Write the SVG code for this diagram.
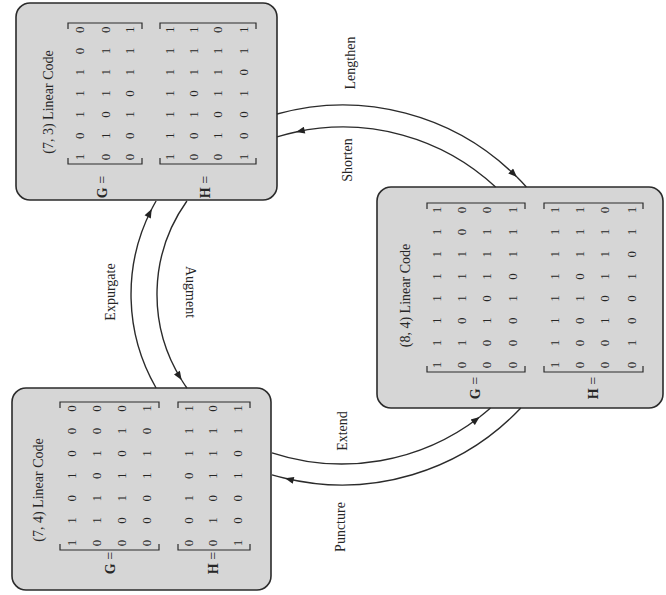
<svg xmlns="http://www.w3.org/2000/svg" width="666" height="595" viewBox="0 0 666 595">
  <style>
    .box { fill: #d6d6d6; stroke: #2b2b2b; stroke-width: 1.6; }
    .brk { fill: none; stroke: #2b2b2b; stroke-width: 1.2; }
    .arc { fill: none; stroke: #2b2b2b; stroke-width: 1.4; }
    .t { font-family: "Liberation Serif", "Times New Roman", serif; fill: #262626; }
    .title { font-size: 14px; text-anchor: middle; }
    .d { font-size: 13px; text-anchor: middle; }
    .lbl { font-size: 14px; text-anchor: middle; }
    .eq { font-size: 14px; text-anchor: middle; }
  </style>
  <defs>
    <marker id="ah" viewBox="0 0 10 8" refX="10" refY="4" markerWidth="10" markerHeight="7" markerUnits="userSpaceOnUse" orient="auto">
      <path d="M0,0 L10,4 L0,8 z" fill="#222"/>
    </marker>
  </defs>
  <rect width="666" height="595" fill="#ffffff"/>

  <!-- Node: (7,3) Linear Code -->
  <g id="node-7-3">
    <rect class="box" x="16" y="3" width="261" height="197" rx="14"/>
    <path class="brk" d="M68,158 L68,164 L142,164 L142,158 M68,29 L68,23 L142,23 L142,29"/>
    <path class="brk" d="M160,158 L160,164 L256,164 L256,158 M160,29 L160,23 L256,23 L256,29"/>
    <g transform="translate(0,595) rotate(-90)" class="t">
      <text class="title" x="493" y="52.5">(7, 3) Linear Code</text>
      <text class="d" x="438 459.2 480.4 501.6 522.8 544 565.2" y="84.4">1011100</text>
      <text class="d" x="438 459.2 480.4 501.6 522.8 544 565.2" y="110.4">0101110</text>
      <text class="d" x="438 459.2 480.4 501.6 522.8 544 565.2" y="134.4">0010111</text>
      <text class="d" x="438 459.2 480.4 501.6 522.8 544 565.2" y="174.4">1111111</text>
      <text class="d" x="438 459.2 480.4 501.6 522.8 544 565.2" y="198.4">0010111</text>
      <text class="d" x="438 459.2 480.4 501.6 522.8 544 565.2" y="222.4">0101110</text>
      <text class="d" x="438 459.2 480.4 501.6 522.8 544 565.2" y="248.4">1001011</text>
      <text class="eq" x="408" y="107"><tspan font-weight="bold">G</tspan> =</text>
      <text class="eq" x="408" y="210"><tspan font-weight="bold">H</tspan> =</text>
    </g>
  </g>

  <!-- Node: (8,4) Linear Code -->
  <g id="node-8-4">
    <rect class="box" x="377" y="187" width="286" height="221" rx="14"/>
    <path class="brk" d="M427,366 L427,372 L525,372 L525,366 M427,209 L427,203 L525,203 L525,209"/>
    <path class="brk" d="M544,366 L544,372 L643,372 L643,366 M544,209 L544,203 L643,203 L643,209"/>
    <g transform="translate(0,595) rotate(-90)" class="t">
      <text class="title" x="299.5" y="409.5">(8, 4) Linear Code</text>
      <text class="d" x="230 252.1 274.3 296.4 318.6 340.7 362.9 385" y="441.4">11111111</text>
      <text class="d" x="230 252.1 274.3 296.4 318.6 340.7 362.9 385" y="466.4">01011100</text>
      <text class="d" x="230 252.1 274.3 296.4 318.6 340.7 362.9 385" y="491.4">00101110</text>
      <text class="d" x="230 252.1 274.3 296.4 318.6 340.7 362.9 385" y="517.4">00010111</text>
      <text class="d" x="230 252.1 274.3 296.4 318.6 340.7 362.9 385" y="559.4">11111111</text>
      <text class="d" x="230 252.1 274.3 296.4 318.6 340.7 362.9 385" y="584.4">00010111</text>
      <text class="d" x="230 252.1 274.3 296.4 318.6 340.7 362.9 385" y="609.4">00101110</text>
      <text class="d" x="230 252.1 274.3 296.4 318.6 340.7 362.9 385" y="636.4">01001011</text>
      <text class="eq" x="207" y="480"><tspan font-weight="bold">G</tspan> =</text>
      <text class="eq" x="207" y="598"><tspan font-weight="bold">H</tspan> =</text>
    </g>
  </g>

  <!-- Node: (7,4) Linear Code -->
  <g id="node-7-4">
    <rect class="box" x="12" y="388" width="259" height="202" rx="14"/>
    <path class="brk" d="M60,544 L60,550 L159,550 L159,544 M60,408 L60,402 L159,402 L159,408"/>
    <path class="brk" d="M178,544 L178,550 L250,550 L250,544 M178,408 L178,402 L250,402 L250,408"/>
    <g transform="translate(0,595) rotate(-90)" class="t">
      <text class="title" x="105" y="43">(7, 4) Linear Code</text>
      <text class="d" x="52 74.4 96.8 119.2 141.6 164 186.4" y="76.4">1101000</text>
      <text class="d" x="52 74.4 96.8 119.2 141.6 164 186.4" y="101.4">0110100</text>
      <text class="d" x="52 74.4 96.8 119.2 141.6 164 186.4" y="126.4">0011010</text>
      <text class="d" x="52 74.4 96.8 119.2 141.6 164 186.4" y="151.4">0001101</text>
      <text class="d" x="52 74.4 96.8 119.2 141.6 164 186.4" y="193.4">0010111</text>
      <text class="d" x="52 74.4 96.8 119.2 141.6 164 186.4" y="217.4">0101110</text>
      <text class="d" x="52 74.4 96.8 119.2 141.6 164 186.4" y="242.4">1001011</text>
      <text class="eq" x="32" y="115"><tspan font-weight="bold">G</tspan> =</text>
      <text class="eq" x="32" y="218"><tspan font-weight="bold">H</tspan> =</text>
    </g>
  </g>

  <!-- Connectors -->
  <g id="connectors">
    <!-- Lengthen: (7,3) -> (8,4) -->
    <path class="arc" d="M277,114 A246,246 0 0 1 516.9,177.1" marker-end="url(#ah)"/>
    <path class="arc" d="M516.9,177.1 A246,246 0 0 1 526.4,187"/>
    <!-- Shorten: (8,4) -> (7,3) -->
    <path class="arc" d="M495.6,187 A224,224 0 0 0 296,132" marker-end="url(#ah)"/>
    <path class="arc" d="M296,132 A224,224 0 0 0 277,136.9"/>
    <!-- Expurgate: (7,4) -> (7,3) -->
    <path class="arc" d="M156.1,388 A187,187 0 0 1 151.7,209" marker-end="url(#ah)"/>
    <path class="arc" d="M151.7,209 A187,187 0 0 1 156.1,201"/>
    <!-- Augment: (7,3) -> (7,4) -->
    <path class="arc" d="M186.9,201 A161,161 0 0 0 181.6,380" marker-end="url(#ah)"/>
    <path class="arc" d="M181.6,380 A161,161 0 0 0 186.9,388"/>
    <!-- Extend: (7,4) -> (8,4) -->
    <path class="arc" d="M272,452.8 A225,225 0 0 0 479.6,417" marker-end="url(#ah)"/>
    <path class="arc" d="M479.6,417 A225,225 0 0 0 490.5,408"/>
    <!-- Puncture: (8,4) -> (7,4) -->
    <path class="arc" d="M520.8,408 A246,246 0 0 1 285,478.3" marker-end="url(#ah)"/>
    <path class="arc" d="M285,478.3 A246,246 0 0 1 272,474.8"/>
  </g>

  <!-- Connector labels -->
  <g id="connector-labels" class="t">
    <g transform="translate(0,595) rotate(-90)">
      <text class="lbl" x="532" y="355">Lengthen</text>
      <text class="lbl" x="435" y="352">Shorten</text>
      <text class="lbl" x="164" y="347">Extend</text>
      <text class="lbl" x="68" y="345">Puncture</text>
      <text class="lbl" x="303" y="115">Expurgate</text>
    </g>
    <text class="lbl" transform="translate(190,292) rotate(90)" x="0" y="4.5">Augment</text>
  </g>
</svg>
